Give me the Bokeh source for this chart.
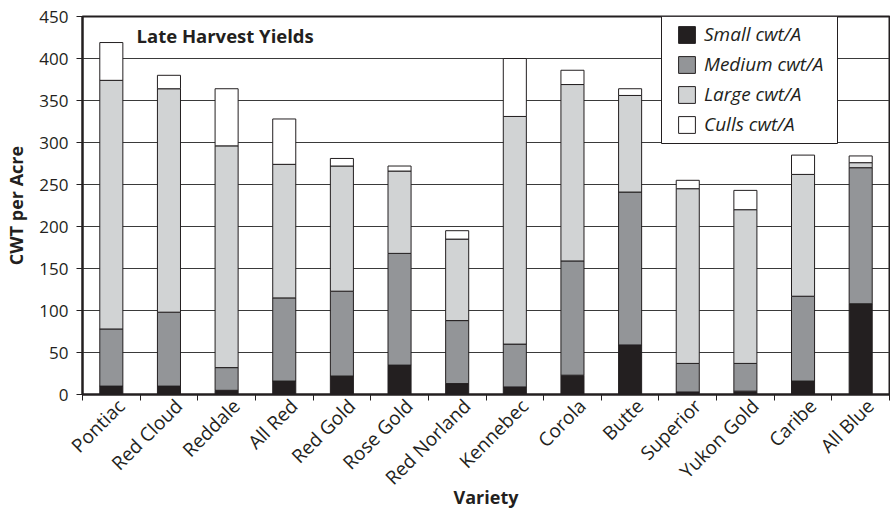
import math

from bokeh.plotting import figure
from bokeh.models import (ColumnDataSource, FixedTicker, CustomJSTickFormatter,
                          Range1d, Legend, LegendItem, Label, BoxAnnotation)
from bokeh.embed import file_html
from bokeh.resources import INLINE

# Late-harvest yields by potato variety (cwt per acre), by size class
varieties = ["Pontiac", "Red Cloud", "Reddale", "All Red", "Red Gold", "Rose Gold",
             "Red Norland", "Kennebec", "Corola", "Butte", "Superior", "Yukon Gold",
             "Caribe", "All Blue"]
small = [10, 10, 5, 16, 22, 35, 13, 9, 23, 59, 3, 4, 16, 108]
medium = [68, 88, 27, 99, 101, 133, 75, 51, 136, 182, 34, 33, 101, 162]
large = [296, 266, 264, 159, 149, 98, 97, 271, 210, 115, 208, 183, 145, 6]
culls = [45, 16, 68, 54, 9, 6, 10, 69, 17, 8, 10, 23, 23, 8]

series = ["small", "medium", "large", "culls"]
series_labels = ["Small cwt/A", "Medium cwt/A", "Large cwt/A", "Culls cwt/A"]
series_colors = ["#231f20", "#939598", "#d1d3d4", "#ffffff"]

y_ticks = [0, 50, 100, 150, 200, 250, 300, 350, 400, 450]

INK = "#231f20"
FONT = "Open Sans"

n = len(varieties)
centers = [i + 0.5 for i in range(n)]
bounds = list(range(n + 1))
# rotated names sit slightly right of the bar centre so they end under it
label_pos = [c + 0.17 for c in centers]

source = ColumnDataSource(dict(x=centers, small=small, medium=medium,
                               large=large, culls=culls))

p = figure(width=890, height=512, output_backend="svg", toolbar_location=None,
           x_range=Range1d(0, n), y_range=Range1d(y_ticks[0], y_ticks[-1]),
           min_border_left=82, min_border_right=1, min_border_top=16,
           min_border_bottom=118)

renderers = p.vbar_stack(series, x="x", width=0.4, source=source,
                         fill_color=series_colors, line_color=INK, line_width=1)

# frame
p.outline_line_color = INK
p.outline_line_width = 2
p.background_fill_color = "white"
p.border_fill_color = "white"

# grid
p.xgrid.visible = False
p.ygrid.grid_line_color = "#3a3a3a"
p.ygrid.grid_line_width = 1

# y axis
yax = p.yaxis[0]
yax.ticker = FixedTicker(ticks=y_ticks)
yax.axis_line_color = INK
yax.axis_line_width = 2
yax.major_tick_line_color = INK
yax.major_tick_line_width = 1
yax.major_tick_out = 6
yax.major_tick_in = 0
yax.minor_tick_line_color = None
yax.major_label_standoff = 8
yax.major_label_text_font = FONT
yax.major_label_text_font_size = "17px"
yax.major_label_text_color = INK
yax.axis_label = "CWT per Acre"
yax.axis_label_text_font = FONT
yax.axis_label_text_font_size = "18px"
yax.axis_label_text_font_style = "bold"
yax.axis_label_text_color = INK
yax.axis_label_standoff = 8

# x axis: names under the bars, ticks at category boundaries
xax = p.xaxis[0]
xax.ticker = FixedTicker(ticks=label_pos, minor_ticks=bounds)
xax.formatter = CustomJSTickFormatter(args=dict(names=varieties),
                                      code="return names[Math.floor(tick)] || '';")
xax.axis_line_color = INK
xax.axis_line_width = 2
xax.major_tick_line_color = None
xax.minor_tick_line_color = INK
xax.minor_tick_line_width = 1
xax.minor_tick_out = 6
xax.minor_tick_in = 0
xax.major_label_orientation = math.pi / 4
xax.major_label_standoff = 2
xax.major_label_text_font = FONT
xax.major_label_text_font_size = "19px"
xax.major_label_text_color = INK
xax.axis_label = "Variety"
xax.axis_label_text_font = FONT
xax.axis_label_text_font_size = "18px"
xax.axis_label_text_font_style = "bold"
xax.axis_label_text_color = INK
xax.axis_label_standoff = -17

# chart heading inside the frame
p.add_layout(Label(x=54, y=359, x_units="screen", y_units="screen",
                   text="Late Harvest Yields", text_font=FONT,
                   text_font_size="18.5px", text_font_style="bold",
                   text_color=INK, text_baseline="alphabetic"))

# legend frame
p.add_layout(BoxAnnotation(left=579, right=755, top=378, bottom=251,
                           left_units="screen", right_units="screen",
                           top_units="screen", bottom_units="screen",
                           fill_color="white", fill_alpha=1,
                           line_color=INK, line_width=1, line_alpha=1))

legend = Legend(items=[LegendItem(label=lab, renderers=[r])
                       for lab, r in zip(series_labels, renderers)],
                location=(594, 257), orientation="vertical",
                padding=0, spacing=4, margin=0,
                glyph_width=21, glyph_height=21, label_standoff=7,
                label_text_font=FONT, label_text_font_size="19px",
                label_text_font_style="italic", label_text_color=INK,
                border_line_color=None, background_fill_alpha=0)
p.add_layout(legend)

open("out.html", "w").write(file_html(p, INLINE))
